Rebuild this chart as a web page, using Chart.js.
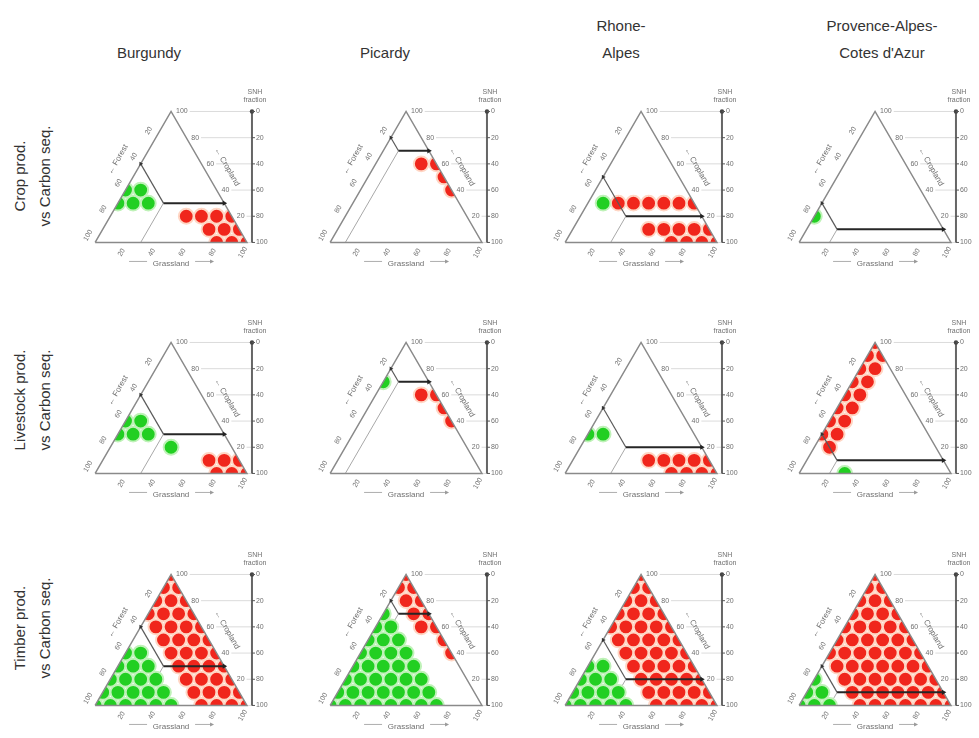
<!DOCTYPE html>
<html>
<head>
<meta charset="utf-8">
<script src="https://cdn.jsdelivr.net/npm/chart.js@4.4.1/dist/chart.umd.min.js"></script>
<style>
    body { margin: 0; background: #fff; width: 979px; height: 738px; overflow: hidden; position: relative;
           font-family: "Liberation Sans", Arial, sans-serif; color: #333; }
    canvas { position: absolute; }
    .title { position: absolute; font-size: 15px; line-height: 27px; text-align: center;
             transform: translateX(-50%); white-space: nowrap; }
    .rowlab { position: absolute; font-size: 15px; line-height: 25px; text-align: center; white-space: nowrap;
              transform: translate(-50%, -50%) rotate(-90deg); }
</style>
</head>
<body>
<script>
"use strict";

// Column / row headings
const regions = ["Burgundy", "Picardy", "Rhone-\nAlpes", "Provence-Alpes-\nCotes d'Azur"];
const services = ["Crop prod.\nvs Carbon seq.", "Livestock prod.\nvs Carbon seq.", "Timber prod.\nvs Carbon seq."];

// Tick labels
const edgeTicks = [20, 40, 60, 80, 100];
const snhTicks = [0, 20, 40, 60, 80, 100];

// Threshold corner of the arrow line for each region (grassland %, cropland %)
const cornerGrass = [30, 10, 30, 20];
const cornerCrop = [30, 70, 20, 10];

// Dots: rows of [cropland %, [grassland % ...]]
const burgundyCropGreen = [[40, [0, 10]], [30, [0, 10, 20]]];
const burgundyCropRed = [[20, [50, 60, 70, 80]], [10, [70, 80, 90]], [0, [80, 90, 100]]];
const burgundyLivestockGreen = [[40, [0, 10]], [30, [0, 10, 20]], [20, [40]]];
const burgundyLivestockRed = [[10, [70, 80, 90]], [0, [80, 90, 100]]];
const burgundyTimberGreen = [[40, [0, 10]], [30, [0, 10, 20]], [20, [0, 10, 20, 30]],
    [10, [0, 10, 20, 30, 40]], [0, [0, 10, 20, 30, 40, 50]]];
const burgundyTimberRed = [[100, [0]], [90, [0, 10]], [80, [0, 10, 20]], [70, [0, 10, 20, 30]],
    [60, [10, 20, 30, 40]], [50, [20, 30, 40, 50]], [40, [30, 40, 50, 60]], [30, [40, 50, 60, 70]],
    [20, [50, 60, 70, 80]], [10, [60, 70, 80, 90]], [0, [70, 80, 90, 100]]];

const picardyCropGreen = [];
const picardyCropRed = [[60, [30, 40]], [50, [50]], [40, [60]]];
const picardyLivestockGreen = [[70, [0]]];
const picardyLivestockRed = [[60, [30, 40]], [50, [50]], [40, [60]]];
const picardyTimberGreen = [[70, [0]], [60, [0, 10]], [50, [0, 10, 20]], [40, [0, 10, 20, 30]],
    [30, [0, 10, 20, 30, 40]], [20, [0, 10, 20, 30, 40, 50]], [10, [0, 10, 20, 30, 40, 50, 60]],
    [0, [0, 10, 20, 30, 40, 50, 60, 70]]];
const picardyTimberRed = [[100, [0]], [90, [0, 10]], [80, [10, 20]], [70, [20, 30]], [60, [30, 40]],
    [50, [50]], [40, [60]]];

const rhoneCropGreen = [[30, [10]]];
const rhoneCropRed = [[30, [20, 30, 40, 50, 60, 70]], [10, [50, 60, 70, 80, 90]], [0, [70, 80, 90, 100]]];
const rhoneLivestockGreen = [[30, [0, 10]]];
const rhoneLivestockRed = [[10, [50, 60, 70, 80, 90]], [0, [70, 80, 90, 100]]];
const rhoneTimberGreen = [[30, [0, 10]], [20, [0, 10, 20]], [10, [0, 10, 20, 30]], [0, [0, 10, 20, 30, 40]]];
const rhoneTimberRed = [[100, [0]], [90, [0, 10]], [80, [0, 10, 20]], [70, [0, 10, 20, 30]],
    [60, [0, 10, 20, 30, 40]], [50, [10, 20, 30, 40, 50]], [40, [20, 30, 40, 50, 60]],
    [30, [30, 40, 50, 60, 70]], [20, [40, 50, 60, 70, 80]], [10, [50, 60, 70, 80, 90]],
    [0, [60, 70, 80, 90, 100]]];

const provenceCropGreen = [[20, [0]]];
const provenceCropRed = [];
const provenceLivestockGreen = [[0, [30]]];
const provenceLivestockRed = [[100, [0]], [90, [0, 10]], [80, [0, 10]], [70, [0, 10]], [60, [0, 10]],
    [50, [0, 10]], [40, [0, 10]], [30, [0, 10]], [20, [10]]];
const provenceTimberGreen = [[20, [0]], [10, [0, 10]], [0, [0, 10, 20]]];
const provenceTimberRed = [[100, [0]], [90, [0, 10]], [80, [0, 10, 20]], [70, [0, 10, 20, 30]],
    [60, [0, 10, 20, 30, 40]], [50, [0, 10, 20, 30, 40, 50]], [40, [0, 10, 20, 30, 40, 50, 60]],
    [30, [10, 20, 30, 40, 50, 60, 70]], [20, [20, 30, 40, 50, 60, 70, 80]],
    [10, [30, 40, 50, 60, 70, 80, 90]], [0, [40, 50, 60, 70, 80, 90, 100]]];

// [row][col]
const greenSets = [
    [burgundyCropGreen, picardyCropGreen, rhoneCropGreen, provenceCropGreen],
    [burgundyLivestockGreen, picardyLivestockGreen, rhoneLivestockGreen, provenceLivestockGreen],
    [burgundyTimberGreen, picardyTimberGreen, rhoneTimberGreen, provenceTimberGreen]
];
const redSets = [
    [burgundyCropRed, picardyCropRed, rhoneCropRed, provenceCropRed],
    [burgundyLivestockRed, picardyLivestockRed, rhoneLivestockRed, provenceLivestockRed],
    [burgundyTimberRed, picardyTimberRed, rhoneTimberRed, provenceTimberRed]
];

// --- layout ---
const S3 = Math.sqrt(3) / 2;
const PX = 1.65;                       // pixels per percent
const triLeft = [88, 323, 558, 792];   // page x of bottom-left corner
const triBase = [247, 478, 710];       // page y of the base
const CW = 235, CH = 225;
const OFF_X = 28, OFF_Y = 167;         // corner position inside the canvas
const AXIS_X = 103.3;                  // SNH axis, in ternary x units
const titleX = [149, 385, 621, 882];
const rowY = [176, 400, 628];

const toXY = (g, c) => ({ x: g + c / 2, y: c * S3 });
const dots = rows => {
    const out = [];
    rows.forEach(([c, gs]) => gs.forEach(g => out.push(toXY(g, c))));
    return out;
};

// clip the dots to the triangle
const triClip = {
    id: "triClip",
    beforeDatasetDraw(chart, args) {
        if (!chart.data.datasets[args.index].clipTri) return;
        const { x, y } = chart.scales;
        const ctx = chart.ctx;
        ctx.save();
        ctx.beginPath();
        ctx.moveTo(x.getPixelForValue(0), y.getPixelForValue(0));
        ctx.lineTo(x.getPixelForValue(100), y.getPixelForValue(0));
        ctx.lineTo(x.getPixelForValue(50), y.getPixelForValue(100 * S3));
        ctx.closePath();
        ctx.clip();
    },
    afterDatasetDraw(chart, args) {
        if (chart.data.datasets[args.index].clipTri) chart.ctx.restore();
    }
};

function rtext(ctx, s, x, y, ang) {
    ctx.save();
    ctx.translate(x, y);
    ctx.rotate(ang);
    ctx.fillText(s, 0, 0);
    ctx.restore();
}

// grid lines, tick labels and axis titles
const ternaryAxes = {
    id: "ternaryAxes",
    beforeDatasetsDraw(chart) {
        const { x, y } = chart.scales;
        const ctx = chart.ctx;
        const p = (g, c) => ({ x: x.getPixelForValue(g + c / 2), y: y.getPixelForValue(c * S3) });
        const ax = x.getPixelForValue(AXIS_X);
        ctx.save();
        ctx.font = '7px "Liberation Sans", Arial';
        ctx.strokeStyle = "#d2d2d2";
        ctx.lineWidth = 0.8;
        [100, 80, 60, 40, 20].forEach(c => {
            const q = p(100 - c, c);
            const w = ctx.measureText(String(c)).width;
            ctx.beginPath();
            ctx.moveTo(q.x + 7 + w, q.y);
            ctx.lineTo(ax, q.y);
            ctx.stroke();
        });
        const b = p(100, 0);
        ctx.beginPath();
        ctx.moveTo(b.x, b.y);
        ctx.lineTo(ax, b.y);
        ctx.stroke();
        ctx.restore();
    },
    afterDatasetsDraw(chart) {
        const { x, y } = chart.scales;
        const ctx = chart.ctx;
        const p = (g, c) => ({ x: x.getPixelForValue(g + c / 2), y: y.getPixelForValue(c * S3) });
        const ax = x.getPixelForValue(AXIS_X);
        ctx.save();
        ctx.fillStyle = "#707070";
        ctx.font = '7px "Liberation Sans", Arial';
        ctx.textBaseline = "middle";

        // cropland ticks on the right edge
        ctx.textAlign = "left";
        [100, 80, 60, 40, 20].forEach(c => {
            const q = p(100 - c, c);
            ctx.fillText(String(c), q.x + 5, q.y);
        });

        // SNH fraction axis
        ctx.strokeStyle = "#555";
        ctx.lineWidth = 1;
        snhTicks.forEach(s => {
            const py = y.getPixelForValue((100 - s) * S3);
            ctx.beginPath();
            ctx.moveTo(ax, py);
            ctx.lineTo(ax + 3, py);
            ctx.stroke();
            ctx.fillText(String(s), ax + 4, py);
        });
        ctx.textAlign = "center";
        const top = y.getPixelForValue(100 * S3);
        ctx.fillText("SNH", ax + 3, top - 19);
        ctx.fillText("fraction", ax + 3, top - 11);

        // forest ticks on the left edge
        edgeTicks.forEach(f => {
            const q = p(0, 100 - f);
            rtext(ctx, String(f), q.x - 7, q.y - 7, -Math.PI / 3);
        });
        // grassland ticks under the base
        edgeTicks.forEach(g => {
            const q = p(g, 0);
            rtext(ctx, String(g), q.x - 4, q.y + 10, -Math.PI / 3);
        });

        // axis titles
        ctx.font = '8px "Liberation Sans", Arial';
        const fq = p(0, 55);
        rtext(ctx, "\u2190 Forest", fq.x - 19, fq.y - 11, -Math.PI / 3);
        const cq = p(50, 50);
        rtext(ctx, "\u2190 Cropland", cq.x + 18, cq.y - 10, Math.PI / 3);
        const gq = p(50, 0);
        ctx.fillText("Grassland", gq.x, gq.y + 21);
        ctx.strokeStyle = "#999";
        ctx.lineWidth = 0.8;
        ctx.beginPath();
        ctx.moveTo(gq.x - 42, gq.y + 19);
        ctx.lineTo(gq.x - 24, gq.y + 19);
        ctx.moveTo(gq.x + 24, gq.y + 19);
        ctx.lineTo(gq.x + 40, gq.y + 19);
        ctx.stroke();
        ctx.beginPath();
        ctx.fillStyle = "#999";
        ctx.moveTo(gq.x + 43, gq.y + 19);
        ctx.lineTo(gq.x + 39, gq.y + 17);
        ctx.lineTo(gq.x + 39, gq.y + 21);
        ctx.fill();
        ctx.restore();
    }
};

function makePanel(row, col) {
    const canvas = document.createElement("canvas");
    canvas.width = CW;
    canvas.height = CH;
    canvas.style.left = (triLeft[col] - OFF_X) + "px";
    canvas.style.top = (triBase[row] - OFF_Y) + "px";
    document.body.appendChild(canvas);

    const green = dots(greenSets[row][col]);
    const red = dots(redSets[row][col]);
    const a = cornerGrass[col], b = cornerCrop[col];
    const xMin = -OFF_X / PX, yMax = OFF_Y / PX;

    new Chart(canvas, {
        type: "scatter",
        data: {
            datasets: [
                // grey line down to the base (under the dots)
                { data: [toXY(a, b), toXY(a, 0)], order: 8, showLine: true,
                  borderColor: "#a8a8a8", borderWidth: 1, pointRadius: 0 },
                { data: red, order: 7, clipTri: true, pointRadius: 7.4, borderWidth: 2,
                  backgroundColor: "#f0261c", borderColor: "#ffd6c4" },
                { data: green, order: 6, clipTri: true, pointRadius: 7.4, borderWidth: 2,
                  backgroundColor: "#22cf22", borderColor: "#bff2b8" },
                // triangle
                { data: [toXY(0, 0), toXY(100, 0), toXY(0, 100), toXY(0, 0)], order: 5, showLine: true,
                  borderColor: "#8a8a8a", borderWidth: 1.5, pointRadius: 0 },
                // diagonal from the forest edge
                { data: [toXY(0, a + b), toXY(a, b)], order: 3, showLine: true,
                  borderColor: "#5a5a5a", borderWidth: 1.2,
                  pointRadius: c => c.dataIndex === 0 ? 2.5 : 0, pointStyle: "triangle", pointRotation: 90,
                  backgroundColor: "#333", pointBorderWidth: 0 },
                // horizontal SNH arrow
                { data: [toXY(a, b), toXY(100 - b, b)], order: 2, showLine: true,
                  borderColor: "#262626", borderWidth: 2,
                  pointRadius: c => c.dataIndex === 1 ? 3 : 0, pointStyle: "triangle", pointRotation: 90,
                  backgroundColor: "#222", pointBorderWidth: 0 },
                // SNH fraction axis
                { data: [{ x: AXIS_X, y: 0 }, { x: AXIS_X, y: 100 * S3 }], order: 1, showLine: true,
                  borderColor: "#666", borderWidth: 2,
                  pointRadius: c => c.dataIndex === 1 ? 2.2 : 0, backgroundColor: "#444", pointBorderWidth: 0 }
            ]
        },
        options: {
            responsive: false,
            animation: false,
            events: [],
            layout: { padding: 0 },
            scales: {
                x: { type: "linear", display: false, min: xMin, max: xMin + CW / PX },
                y: { type: "linear", display: false, min: yMax - CH / PX, max: yMax }
            },
            plugins: { legend: { display: false }, tooltip: { enabled: false } }
        },
        plugins: [triClip, ternaryAxes]
    });
}

// headings
regions.forEach((name, i) => {
    const d = document.createElement("div");
    d.className = "title";
    const lines = name.split("\n");
    d.innerHTML = lines.join("<br>");
    d.style.left = titleX[i] + "px";
    d.style.top = (lines.length > 1 ? 11.5 : 38.5) + "px";
    document.body.appendChild(d);
});
services.forEach((name, i) => {
    const d = document.createElement("div");
    d.className = "rowlab";
    d.innerHTML = name.split("\n").join("<br>");
    d.style.left = "32px";
    d.style.top = rowY[i] + "px";
    document.body.appendChild(d);
});

for (let r = 0; r < 3; r++) {
    for (let c = 0; c < 4; c++) makePanel(r, c);
}
</script>
</body>
</html>
